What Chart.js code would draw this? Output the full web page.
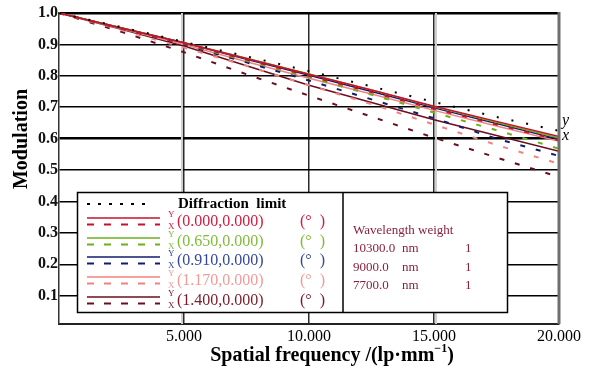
<!DOCTYPE html>
<html>
<head>
<meta charset="utf-8">
<script src="https://cdn.jsdelivr.net/npm/chart.js@4.4.0/dist/chart.umd.min.js"></script>
<style>
html, body { margin: 0; padding: 0; background: #fff; }
#wrap { width: 593px; height: 373px; position: relative; }
</style>
</head>
<body>
<div id="wrap"><canvas id="grafico" width="593" height="373"></canvas></div>
<script>
// frequencias (lp/mm) e valores
const freq = [0, 2.5, 5, 7.5, 10, 12.5, 15, 17.5, 20];
const difracao = [1.0, 0.955, 0.908, 0.862, 0.815, 0.766, 0.717, 0.669, 0.625];
const campo1Y = [1.0, 0.952, 0.905, 0.855, 0.805, 0.755, 0.703, 0.655, 0.607];
const campo1X = [1.0, 0.951, 0.903, 0.852, 0.800, 0.748, 0.695, 0.645, 0.595];
const campo2Y = [1.0, 0.953, 0.905, 0.856, 0.806, 0.755, 0.702, 0.652, 0.602];
const campo2X = [1.0, 0.951, 0.902, 0.848, 0.795, 0.740, 0.683, 0.627, 0.568];
const campo3Y = [1.0, 0.952, 0.905, 0.853, 0.802, 0.750, 0.698, 0.648, 0.598];
const campo3X = [1.0, 0.950, 0.898, 0.843, 0.785, 0.725, 0.665, 0.600, 0.545];
const campo4Y = [1.0, 0.950, 0.900, 0.845, 0.792, 0.742, 0.690, 0.640, 0.592];
const campo4X = [1.0, 0.946, 0.890, 0.832, 0.770, 0.710, 0.645, 0.580, 0.520];
const campo5Y = [1.0, 0.948, 0.895, 0.832, 0.770, 0.715, 0.660, 0.610, 0.560];
const campo5X = [1.0, 0.940, 0.875, 0.805, 0.737, 0.670, 0.603, 0.540, 0.478];

const campos = ['(0.000,0.000)', '(0.650,0.000)', '(0.910,0.000)', '(1.170,0.000)', '(1.400,0.000)'];
const coresLinha = ['#c8102e', '#6cb01c', '#121c6c', '#f08282', '#6a0e1e'];
const coresTexto = ['#d41a40', '#80bc38', '#34489c', '#f29a9a', '#7a1a2a'];
const xTicks = [5, 10, 15, 20];
const yTicks = [0.1, 0.2, 0.3, 0.4, 0.5, 0.6, 0.7, 0.8, 0.9, 1.0];
const comprimentos = ['10300.0', '9000.0', '7700.0'];
const pesos = ['1', '1', '1'];

const serif = "'Liberation Serif', 'Times New Roman', serif";
const pontos = arr => arr.map((v, i) => ({ x: freq[i], y: v }));

const series = [{
    label: 'Diffraction  limit', data: pontos(difracao), borderColor: '#000',
    borderWidth: 2, borderDash: [2, 13]
}];
const pares = [[campo1Y, campo1X], [campo2Y, campo2X], [campo3Y, campo3X], [campo4Y, campo4X], [campo5Y, campo5X]];
pares.forEach((p, i) => {
    series.push({ label: campos[i] + ' Y', data: pontos(p[0]), borderColor: coresLinha[i], borderWidth: 1.5 });
    series.push({ label: campos[i] + ' X', data: pontos(p[1]), borderColor: coresLinha[i], borderWidth: 2, borderDash: [5, 11] });
});

const extras = {
    id: 'extras',
    beforeDatasetsDraw(chart) {
        const { ctx, chartArea: a, scales: { x } } = chart;
        ctx.save();
        // faixa cinza clara ao lado das grades verticais
        [[5, -2], [15, 2]].forEach(([v, off]) => {
            const px = x.getPixelForValue(v);
            ctx.strokeStyle = '#cfcfcf';
            ctx.lineWidth = 2;
            ctx.beginPath(); ctx.moveTo(px + off, a.top); ctx.lineTo(px + off, a.bottom); ctx.stroke();
        });
        ctx.restore();
    },
    afterDraw(chart) {
        const { ctx, chartArea: a } = chart;
        ctx.save();
        // borda direita
        ctx.strokeStyle = '#6e6e6e';
        ctx.lineWidth = 3;
        ctx.beginPath(); ctx.moveTo(a.right, a.top - 1); ctx.lineTo(a.right, a.bottom); ctx.stroke();

        // rotulos y / x na direita
        ctx.fillStyle = '#000';
        ctx.font = 'italic 16px ' + serif;
        ctx.textAlign = 'left';
        ctx.textBaseline = 'alphabetic';
        ctx.fillText('y', a.right + 3, 125);
        ctx.fillText('x', a.right + 3, 140);

        // titulo eixo x
        ctx.font = 'bold 20px ' + serif;
        const t1 = 'Spatial frequency /(lp\u00b7mm';
        const w1 = ctx.measureText(t1).width;
        ctx.font = 'bold 12px ' + serif;
        const w2 = ctx.measureText('\u22121').width;
        ctx.font = 'bold 20px ' + serif;
        const w3 = ctx.measureText(')').width;
        let x0 = 332 - (w1 + w2 + w3) / 2;
        ctx.fillText(t1, x0, 361);
        ctx.font = 'bold 12px ' + serif;
        ctx.fillText('\u22121', x0 + w1, 352);
        ctx.font = 'bold 20px ' + serif;
        ctx.fillText(')', x0 + w1 + w2, 361);

        // titulo eixo y
        ctx.save();
        ctx.translate(27, 139);
        ctx.rotate(-Math.PI / 2);
        ctx.textAlign = 'center';
        ctx.fillText('Modulation', 0, 0);
        ctx.restore();

        // legenda
        ctx.fillStyle = '#fff';
        ctx.fillRect(77, 192, 430, 120);
        ctx.strokeStyle = '#000';
        ctx.lineWidth = 1.5;
        ctx.strokeRect(77.5, 192.5, 430, 120);
        ctx.beginPath(); ctx.moveTo(343, 192); ctx.lineTo(343, 312); ctx.stroke();

        const ds = chart.data.datasets;
        ctx.textBaseline = 'middle';
        ctx.textAlign = 'left';
        // linha 1: difracao
        ctx.strokeStyle = '#000';
        ctx.lineWidth = 2;
        ctx.setLineDash([3, 8]);
        ctx.beginPath(); ctx.moveTo(87, 204); ctx.lineTo(150, 204); ctx.stroke();
        ctx.setLineDash([]);
        ctx.fillStyle = '#000';
        ctx.font = 'bold 15px ' + serif;
        ctx.fillText(ds[0].label, 178, 204);

        const linhas = [222, 242, 261, 281, 301];
        linhas.forEach((yc, i) => {
            ctx.strokeStyle = ds[1 + i * 2].borderColor;
            ctx.lineWidth = 1.5;
            ctx.beginPath(); ctx.moveTo(87, yc - 4); ctx.lineTo(160, yc - 4); ctx.stroke();
            ctx.lineWidth = 2;
            ctx.setLineDash([7, 10]);
            ctx.beginPath(); ctx.moveTo(87, yc + 2.5); ctx.lineTo(160, yc + 2.5); ctx.stroke();
            ctx.setLineDash([]);
            ctx.fillStyle = coresTexto[i];
            ctx.font = '9px ' + serif;
            ctx.fillText('Y', 168, yc - 7);
            ctx.fillText('X', 168, yc + 4.5);
            ctx.font = '16px ' + serif;
            ctx.fillText(campos[i], 177, yc);
            ctx.fillText('(\u00b0  )', 300, yc);
        });

        ctx.fillStyle = '#8a2040';
        ctx.font = '13px ' + serif;
        ctx.fillText('Wavelength weight', 353, 231);
        comprimentos.forEach((c, i) => {
            const yy = 249 + i * 18.5;
            ctx.fillText(c, 353, yy);
            ctx.fillText('nm', 402, yy);
            ctx.fillText(pesos[i], 465, yy);
        });
        ctx.restore();
    }
};

const perto = (a, b) => Math.abs(a - b) < 1e-6;

new Chart(document.getElementById('grafico').getContext('2d'), {
    type: 'line',
    data: { datasets: series },
    options: {
        responsive: false,
        animation: false,
        devicePixelRatio: 1,
        layout: { padding: { left: 0, right: 34, top: 13, bottom: 0 } },
        elements: { point: { radius: 0 }, line: { tension: 0 } },
        plugins: { legend: { display: false }, tooltip: { enabled: false } },
        scales: {
            x: {
                type: 'linear', min: 0, max: 20,
                afterBuildTicks: s => { s.ticks = xTicks.map(v => ({ value: v })); },
                afterFit: s => { s.height = 49; },
                ticks: {
                    callback: v => v.toFixed(3), color: '#000', padding: 3,
                    maxRotation: 0, autoSkip: false, font: { family: serif, size: 16 }
                },
                grid: {
                    drawTicks: false,
                    color: c => (c.tick && c.tick.value === 20) ? 'rgba(0,0,0,0)' : '#2a2a2a',
                    lineWidth: 1.5
                },
                border: { color: '#222', width: 2 }
            },
            y: {
                min: 0.01, max: 1.0,
                afterBuildTicks: s => { s.ticks = yTicks.map(v => ({ value: v })); },
                afterFit: s => { s.width = 59; },
                ticks: {
                    callback: v => v.toFixed(1), color: '#111', padding: 1,
                    font: { family: serif, size: 16, weight: 'bold' }
                },
                grid: {
                    drawTicks: false,
                    color: '#000',
                    lineWidth: c => (c.tick && (perto(c.tick.value, 1.0) || perto(c.tick.value, 0.6))) ? 2.5 : 1.5
                },
                border: { color: '#333', width: 1.5 }
            }
        }
    },
    plugins: [extras]
});
</script>
</body>
</html>
